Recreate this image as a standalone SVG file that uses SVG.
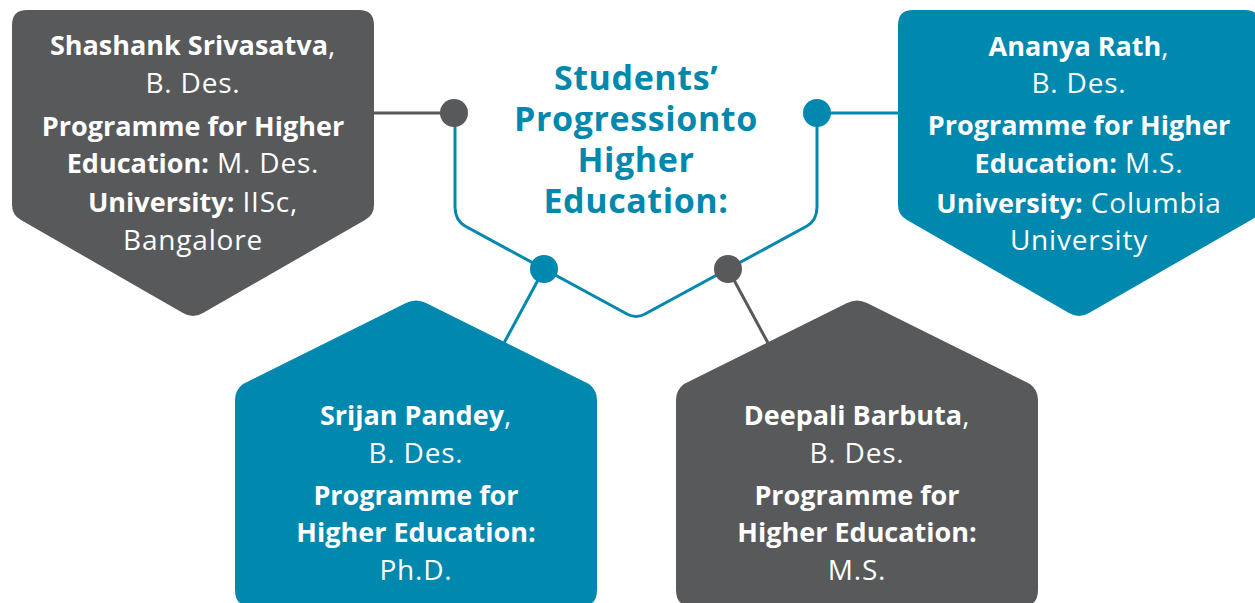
<svg xmlns="http://www.w3.org/2000/svg" width="1255" height="603" viewBox="0 0 1255 603">
<style>
.teal{fill:#0088ae}
.gray{fill:#58595b}
.t{font-family:"Open Sans","Liberation Sans",sans-serif;font-size:27px;fill:#ffffff;text-anchor:middle;font-variant-ligatures:none}
.b{font-weight:700;font-size:27px}
.r{font-weight:400;font-size:28px;letter-spacing:0.8px}
.title{font-family:"Open Sans","Liberation Sans",sans-serif;font-size:34px;font-weight:700;fill:#0088ae;text-anchor:middle;letter-spacing:0.6px}
.lt{fill:none;stroke:#0088ae;stroke-width:3}
.lg{fill:none;stroke:#58595b;stroke-width:3}
</style>
<rect width="1255" height="603" fill="#ffffff"/>
<g id="connectors">
<path class="lg" d="M374,113 H454"/>
<path class="lt" d="M817,113 H898"/>
<path class="lt" d="M455,113 V207 Q455,220 465,226 L627,314 Q636,319 645,314 L807,226 Q817,220 817,207 V113"/>
<path class="lt" d="M544,269 L504,343"/>
<path class="lg" d="M728,269 L768,343"/>
<circle class="gray" cx="454" cy="113" r="14"/>
<circle class="teal" cx="817" cy="113" r="14"/>
<circle class="teal" cx="544" cy="269" r="14"/>
<circle class="gray" cx="728" cy="269" r="14"/>
</g>
<g id="title">
<text class="title" x="636" y="90">Students’</text>
<text class="title" x="636" y="131">Progressionto</text>
<text class="title" x="636" y="172">Higher</text>
<text class="title" x="636" y="213">Education:</text>
</g>
<g id="node-shashank">
<path class="gray" d="M12,25 Q12,10 27,10 H359 Q374,10 374,25 V205 Q374,215 365,220 L203,313 Q193,319 183,313 L21,220 Q12,215 12,205 Z"/>
<text class="t" x="193" y="55"><tspan class="b">Shashank Srivasatva</tspan><tspan class="r">,</tspan></text>
<text class="t r" x="193" y="93">B. Des.</text>
<text class="t b" x="193" y="136">Programme for Higher</text>
<text class="t" x="193" y="173"><tspan class="b">Education:</tspan><tspan class="r"> M. Des.</tspan></text>
<text class="t" x="193" y="212"><tspan class="b">University:</tspan><tspan class="r"> IISc,</tspan></text>
<text class="t r" x="193" y="250">Bangalore</text>
</g>
<g id="node-ananya">
<path class="teal" d="M898,25 Q898,10 913,10 H1245 Q1260,10 1260,25 V205 Q1260,215 1251,220 L1089,313 Q1079,319 1069,313 L907,220 Q898,215 898,205 Z"/>
<text class="t" x="1079" y="56"><tspan class="b">Ananya Rath</tspan><tspan class="r">,</tspan></text>
<text class="t r" x="1079" y="93">B. Des.</text>
<text class="t b" x="1079" y="135">Programme for Higher</text>
<text class="t" x="1079" y="173"><tspan class="b">Education:</tspan><tspan class="r"> M.S.</tspan></text>
<text class="t" x="1079" y="213"><tspan class="b">University:</tspan><tspan class="r"> Columbia</tspan></text>
<text class="t r" x="1079" y="250">University</text>
</g>
<g id="node-srijan">
<path class="teal" d="M235,400 Q235,390 243,384 L406,303 Q416,298 426,303 L589,384 Q597,390 597,400 V590 Q597,606 582,606 H250 Q235,606 235,590 Z"/>
<text class="t" x="416" y="425"><tspan class="b">Srijan Pandey</tspan><tspan class="r">,</tspan></text>
<text class="t r" x="416" y="463">B. Des.</text>
<text class="t b" x="416" y="505">Programme for</text>
<text class="t b" x="416" y="542">Higher Education:</text>
<text class="t r" x="416" y="580">Ph.D.</text>
</g>
<g id="node-deepali">
<path class="gray" d="M676,400 Q676,390 684,384 L847,303 Q857,298 867,303 L1030,384 Q1038,390 1038,400 V590 Q1038,606 1023,606 H691 Q676,606 676,590 Z"/>
<text class="t" x="857" y="425"><tspan class="b">Deepali Barbuta</tspan><tspan class="r">,</tspan></text>
<text class="t r" x="857" y="463">B. Des.</text>
<text class="t b" x="857" y="505">Programme for</text>
<text class="t b" x="857" y="542">Higher Education:</text>
<text class="t r" x="857" y="580">M.S.</text>
</g>
</svg>
